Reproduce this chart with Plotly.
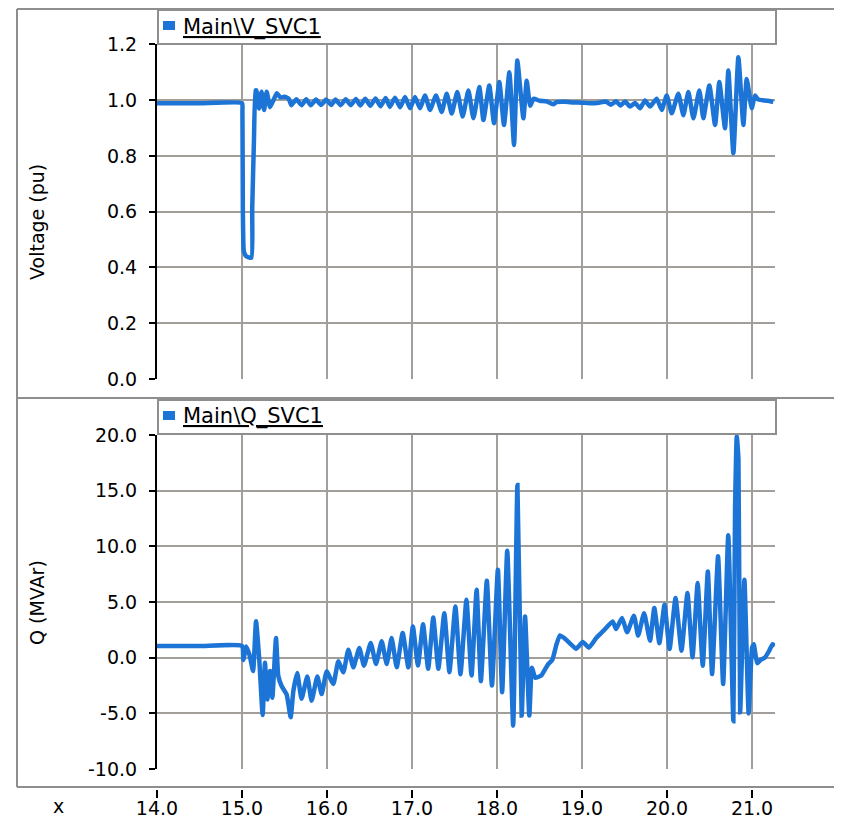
import plotly.graph_objects as go

# ---------------- data ----------------
v_time = [
    14.00, 14.50, 15.00, 15.005, 15.01, 15.02, 15.03, 15.05, 15.11, 15.12, 15.14, 15.16,
    15.17, 15.20, 15.23, 15.26, 15.29, 15.33, 15.37, 15.41, 15.45, 15.50, 15.55,
    15.58, 15.64, 15.70, 15.755, 15.81, 15.87, 15.93, 15.99, 16.05, 16.10, 16.16, 16.22,
    16.28, 16.34, 16.39, 16.45, 16.51, 16.57, 16.63, 16.69, 16.74, 16.80, 16.86,
    16.918, 16.977, 17.035, 17.094, 17.153, 17.212, 17.282, 17.349, 17.408, 17.467,
    17.533, 17.596, 17.663, 17.722, 17.792, 17.84, 17.909, 17.965, 18.027, 18.082,
    18.145, 18.20, 18.239, 18.31, 18.349, 18.39, 18.43, 18.50, 18.58, 18.66, 18.70,
    18.80, 18.90, 19.00, 19.10, 19.20, 19.28, 19.34, 19.40, 19.45,
    19.506, 19.565, 19.624, 19.682, 19.741, 19.80, 19.878, 19.937, 19.996, 20.055,
    20.133, 20.192, 20.251, 20.31, 20.38, 20.427, 20.498, 20.565, 20.615, 20.682,
    20.721, 20.78, 20.839, 20.898, 20.937, 20.996, 21.035, 21.07, 21.12, 21.18, 21.25,
]
v_value = [
    0.989, 0.989, 0.989, 0.96, 0.60, 0.46, 0.45, 0.44, 0.435, 0.61, 0.85, 1.035,
    1.035, 0.97, 1.03, 0.965, 1.03, 0.975, 1.00, 1.025, 1.01, 1.012, 1.005,
    0.982, 1.003, 0.982, 1.003, 0.982, 1.002, 0.983, 1.002, 0.983, 1.002, 0.982, 1.003,
    0.982, 1.004, 0.981, 1.005, 0.980, 1.006, 0.978, 1.008, 0.976, 1.009, 0.975,
    1.011, 0.971, 1.011, 0.971, 1.017, 0.965, 1.017, 0.958, 1.023, 0.952,
    1.029, 0.941, 1.035, 0.935, 1.047, 0.929, 1.053, 0.917, 1.065, 0.911,
    1.100, 0.839, 1.142, 0.935, 1.070, 0.980, 1.005, 0.998, 0.996, 0.985, 0.993,
    0.994, 0.992, 0.991, 0.989, 0.991, 0.995, 0.984, 0.996, 0.981,
    0.995, 0.977, 0.990, 0.971, 0.999, 0.977, 1.005, 0.965, 1.017, 0.953,
    1.023, 0.946, 1.029, 0.935, 1.035, 0.935, 1.053, 0.911, 1.065, 0.899,
    1.106, 0.810, 1.154, 0.911, 1.076, 0.971, 1.017, 1.003, 1.000, 0.998, 0.994,
]

q_time = [
    14.00, 14.50, 15.00, 15.015, 15.05, 15.09, 15.13, 15.165, 15.204, 15.243, 15.27,
    15.298, 15.33, 15.357, 15.40, 15.427, 15.466, 15.525, 15.572, 15.604,
    15.65, 15.70, 15.768, 15.819, 15.886, 15.937, 15.996, 16.074, 16.133, 16.192,
    16.251, 16.31, 16.38, 16.435, 16.514, 16.576, 16.643, 16.702, 16.76, 16.82,
    16.89, 16.957, 17.01, 17.07, 17.13, 17.19, 17.25, 17.31, 17.38, 17.44, 17.51,
    17.57, 17.64, 17.70, 17.76, 17.81, 17.88, 17.94, 18.01, 18.06, 18.12, 18.19,
    18.24, 18.29, 18.33, 18.38, 18.41, 18.45, 18.52, 18.60, 18.65, 18.70, 18.74,
    18.80, 18.87, 18.93, 19.01, 19.08, 19.17, 19.25,
    19.36, 19.40, 19.47, 19.53, 19.61, 19.66, 19.73, 19.80, 19.85, 19.91, 19.97,
    20.03, 20.10, 20.17, 20.24, 20.30, 20.36, 20.42, 20.48, 20.53, 20.60, 20.66,
    20.72, 20.78, 20.80, 20.82, 20.84, 20.86, 20.91, 20.96, 21.00, 21.02, 21.06,
    21.10, 21.15, 21.20, 21.24, 21.27,
]
q_value = [
    1.05, 1.05, 1.05, -0.2, 1.0, 0.2, -1.2, 3.27, -0.3, -5.15, -0.45,
    -3.75, -1.2, -3.6, 1.77, -1.65, -2.55, -3.3, -5.35, -3.0,
    -1.38, -3.7, -1.7, -3.87, -1.7, -3.27, -1.23, -2.37, -0.33, -1.32,
    0.72, -0.87, 0.87, -0.72, 1.32, -0.57, 1.47, -0.57, 1.77, -0.87,
    2.22, -0.87, 2.8, -0.7, 3.0, -1.0, 3.6, -1.0, 4.0, -1.3, 4.6,
    -1.5, 5.2, -1.6, 6.1, -2.1, 6.9, -2.5, 7.9, -3.1, 9.6, -6.1,
    15.5, -5.2, 3.7, -5.2, -0.9, -1.8, -1.6, -0.6, -0.2, 1.2, 2.0,
    1.7, 1.2, 0.8, 1.4, 0.9, 1.8, 2.4,
    3.26, 2.57, 3.56, 2.28, 3.77, 1.98, 4.0, 1.53, 4.46, 1.3, 4.76,
    0.78, 5.36, 0.63, 5.8, 0.03, 6.7, -0.72, 7.75, -1.47, 9.1, -2.37,
    11.0, -5.7, 13.3, 19.9, 17.8, -4.9, 7.0, -5.0, 0.9, 1.2, -0.5,
    -0.2, 0.0, 0.6, 1.2, 1.1,
]

x_ticks = [14, 15, 16, 17, 18, 19, 20, 21]
x_tick_text = ["14.0", "15.0", "16.0", "17.0", "18.0", "19.0", "20.0", "21.0"]
v_ticks = [0.0, 0.2, 0.4, 0.6, 0.8, 1.0, 1.2]
v_tick_text = ["0.0", "0.2", "0.4", "0.6", "0.8", "1.0", "1.2"]
q_ticks = [-10, -5, 0, 5, 10, 15, 20]
q_tick_text = ["-10.0", "-5.0", "0.0", "5.0", "10.0", "15.0", "20.0"]

v_name = "Main\\V_SVC1"
q_name = "Main\\Q_SVC1"
v_title = "Voltage (pu)"
q_title = "Q (MVAr)"

# ---------------- styling / layout ----------------
# the page body has an 8px margin, so the figure starts at (8, 8)
OFF = 8
W, H = 834, 813
BLUE = "#1c74d6"
GRID = "#a29f9b"
FRAME = "#8e8e8e"
FONT = "'DejaVu Sans', Verdana, sans-serif"
FS = 19


def px(x):
    return (x - OFF) / W


def py(y):
    return 1 - (y - OFF) / H


PL, PR = 157, 775
x_range = [14, 21.27]

fig = go.Figure()
fig.add_trace(go.Scatter(x=v_time, y=v_value, xaxis="x", yaxis="y", mode="lines",
                         line=dict(color=BLUE, width=4.5, shape="spline",
                                   smoothing=0.45),
                         showlegend=False, name=v_name))
fig.add_trace(go.Scatter(x=q_time, y=q_value, xaxis="x2", yaxis="y2", mode="lines",
                         line=dict(color=BLUE, width=4.5, shape="spline",
                                   smoothing=0.45),
                         showlegend=False, name=q_name))

tickfont = dict(family=FONT, size=FS, color="black")
common_x = dict(range=x_range, domain=[px(PL), px(PR)], tickvals=x_ticks,
                showgrid=True, gridcolor=GRID, gridwidth=2, zeroline=False,
                showline=False)
common_y = dict(showgrid=True, gridcolor=GRID, gridwidth=2, zeroline=False,
                showline=True, linecolor="black", linewidth=2,
                ticks="outside", ticklen=6, tickwidth=2, tickcolor="black",
                tickfont=tickfont, ticklabelstandoff=8)

fig.update_layout(
    width=W, height=H,
    margin=dict(l=0, r=0, t=0, b=0, autoexpand=False),
    paper_bgcolor="white", plot_bgcolor="white",
    xaxis=dict(common_x, anchor="y", showticklabels=False, ticks=""),
    yaxis=dict(common_y, domain=[py(379), py(44.4)], range=[0, 1.2],
               tickvals=v_ticks, ticktext=v_tick_text, anchor="x"),
    xaxis2=dict(common_x, anchor="free", position=py(789),
                ticktext=x_tick_text, ticks="outside", ticklen=8, tickwidth=2,
                tickcolor="black", tickfont=tickfont, ticklabelstandoff=-6),
    yaxis2=dict(common_y, domain=[py(769), py(435)], range=[-10, 20],
                tickvals=q_ticks, ticktext=q_tick_text, anchor="x2"),
)

shapes = []


def hline(y, x0, x1, w=2):
    shapes.append(dict(type="line", xref="paper", yref="paper", x0=px(x0), x1=px(x1),
                       y0=py(y), y1=py(y), line=dict(color=FRAME, width=w)))


hline(9, 17, 842)
hline(398, 17, 842)
hline(787, 17, 842)
shapes.append(dict(type="line", xref="paper", yref="paper", x0=px(17), x1=px(17),
                   y0=py(9), y1=py(787), line=dict(color=FRAME, width=2)))

annotations = []
for (y0, y1, name) in [(10, 44, v_name), (400, 434, q_name)]:
    shapes.append(dict(type="rect", xref="paper", yref="paper", layer="above",
                       x0=px(158), x1=px(776), y0=py(y1), y1=py(y0),
                       fillcolor="white", line=dict(color=FRAME, width=2)))
    shapes.append(dict(type="rect", xref="paper", yref="paper", layer="above",
                       x0=px(163), x1=px(175), y0=py(y0 + 20), y1=py(y0 + 11),
                       fillcolor=BLUE, line=dict(width=0)))
    annotations.append(dict(xref="paper", yref="paper", x=px(181), y=py(y0 + 17),
                            xanchor="left", yanchor="middle", showarrow=False,
                            text="<u>" + name + "</u>",
                            font=dict(family=FONT, size=21, color="black")))

annotations.append(dict(xref="paper", yref="paper", x=px(37), y=py(222),
                        text=v_title, textangle=-90, showarrow=False,
                        xanchor="center", yanchor="middle",
                        font=dict(family=FONT, size=FS, color="black")))
annotations.append(dict(xref="paper", yref="paper", x=px(37), y=py(603),
                        text=q_title, textangle=-90, showarrow=False,
                        xanchor="center", yanchor="middle",
                        font=dict(family=FONT, size=FS, color="black")))
annotations.append(dict(xref="paper", yref="paper", x=px(58), y=py(806),
                        text="x", showarrow=False, xanchor="center",
                        yanchor="middle",
                        font=dict(family=FONT, size=FS, color="black")))

fig.update_layout(shapes=shapes, annotations=annotations)
fig.write_html("out.html")
